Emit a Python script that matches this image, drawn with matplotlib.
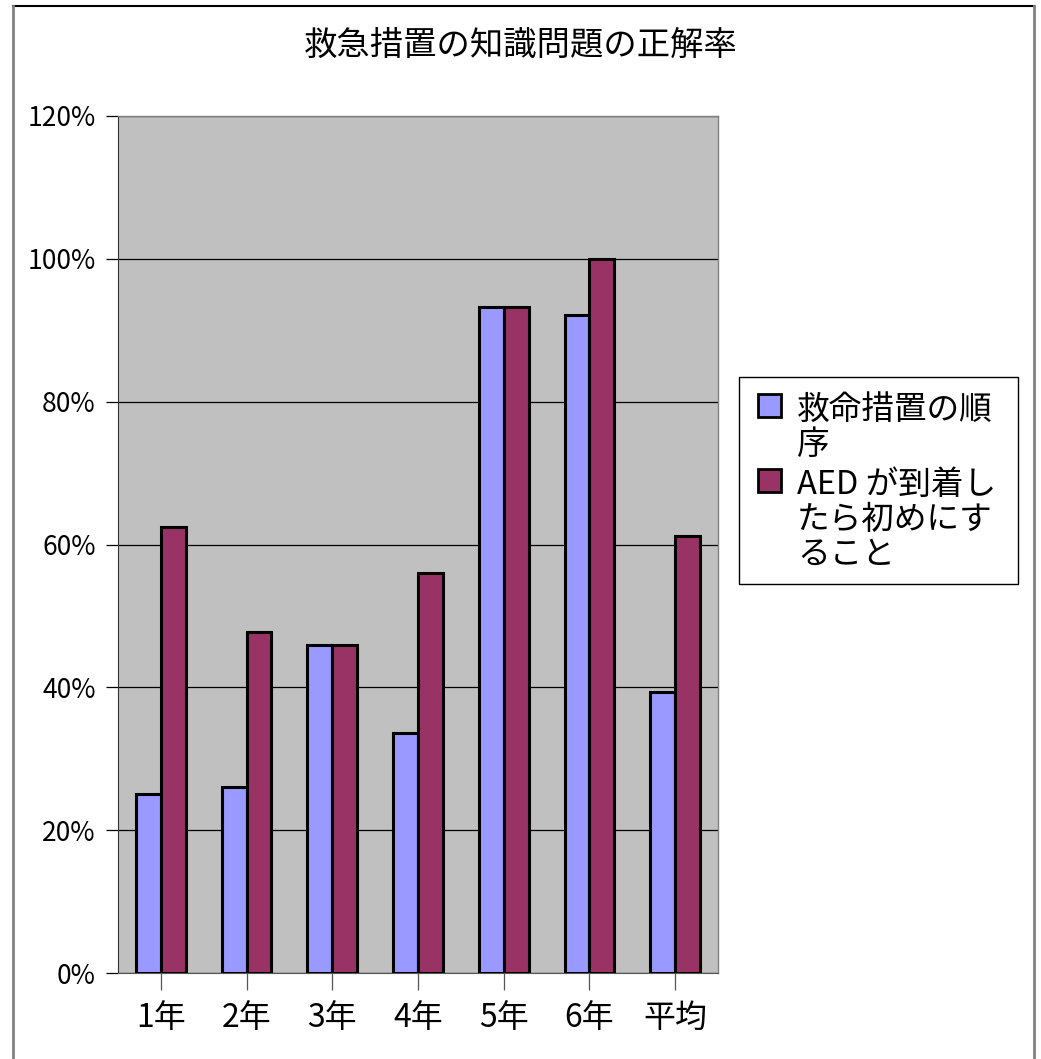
import numpy as np
import matplotlib
matplotlib.use("Agg")
import matplotlib.pyplot as plt
from matplotlib.lines import Line2D
from matplotlib.patches import Rectangle

plt.rcParams['font.family'] = ['Noto Sans CJK JP', 'DejaVu Sans']

# data
categories = ['1年', '2年', '3年', '4年', '5年', '6年', '平均']
order_rate = [25.0, 26.1, 45.9, 33.6, 93.3, 92.2, 39.3]
aed_rate = [62.5, 47.7, 45.9, 56.0, 93.3, 100.0, 61.2]
series_names = ['救命措置の順\n序', 'AED が到着し\nたら初めにす\nること']
series_colors = ['#9999FF', '#993366']
y_ticks = [0, 20, 40, 60, 80, 100, 120]

W, H = 1041, 1059
fig = plt.figure(figsize=(W / 100, H / 100), dpi=100)


def fx(px):
    return px / W


def fy(py):
    return 1 - py / H


# outer chart frame (bottom edge is cut off)
fig.add_artist(Line2D([fx(13), fx(1034)], [fy(6), fy(6)], color='black', lw=1.5))
fig.add_artist(Line2D([fx(13), fx(13)], [fy(6), 0], color='#808080', lw=2))
fig.add_artist(Line2D([fx(1034), fx(1034)], [fy(6), 0], color='#808080', lw=2))

ax = fig.add_axes([fx(118), fy(973), fx(718) - fx(118), fy(116) - fy(973)])
ax.set_facecolor('#C0C0C0')

x = np.arange(len(categories))
bw = 0.29
ax.bar(x - bw / 2, order_rate, bw, color=series_colors[0], edgecolor='black',
       linewidth=2.2, zorder=3)
ax.bar(x + bw / 2, aed_rate, bw, color=series_colors[1], edgecolor='black',
       linewidth=2.2, zorder=3)

ax.set_xlim(-0.5, len(categories) - 0.5)
ax.set_ylim(0, 120)
ax.set_yticks(y_ticks)
ax.set_yticklabels([f'{v}%' for v in y_ticks], fontsize=19)
ax.set_xticks(x)
ax.set_xticklabels(categories, fontsize=23)

ax.yaxis.grid(True, color='black', linewidth=0.9, zorder=1)
ax.set_axisbelow(True)
ax.tick_params(axis='y', direction='out', length=9, width=0.9, pad=7)
ax.tick_params(axis='x', direction='out', length=12, width=0.9, pad=9, color='#555555')

for side in ['top', 'right']:
    ax.spines[side].set_color('#808080')
    ax.spines[side].set_linewidth(1)
ax.spines['left'].set_color('#333333')
ax.spines['bottom'].set_color('#555555')

fig.text(0.5, fy(45), '救急措置の知識問題の正解率', ha='center', va='center',
         fontsize=24)

# legend box, drawn by hand so the swatch sits on the first text line
fig.add_artist(Rectangle((fx(739), fy(584)), fx(1018) - fx(739), fy(377) - fy(584),
                         transform=fig.transFigure, facecolor='white',
                         edgecolor='black', lw=1))
line_y = 410
for name, col in zip(series_names, series_colors):
    fig.add_artist(Rectangle((fx(758), fy(line_y + 7)), fx(23), fy(0) - fy(23),
                             transform=fig.transFigure, facecolor=col,
                             edgecolor='black', lw=2))
    for part in name.split('\n'):
        fig.text(fx(797), fy(line_y), part, ha='left', va='center', fontsize=23.5)
        line_y += 35
    line_y += 5

fig.savefig('out.png', dpi=100)
